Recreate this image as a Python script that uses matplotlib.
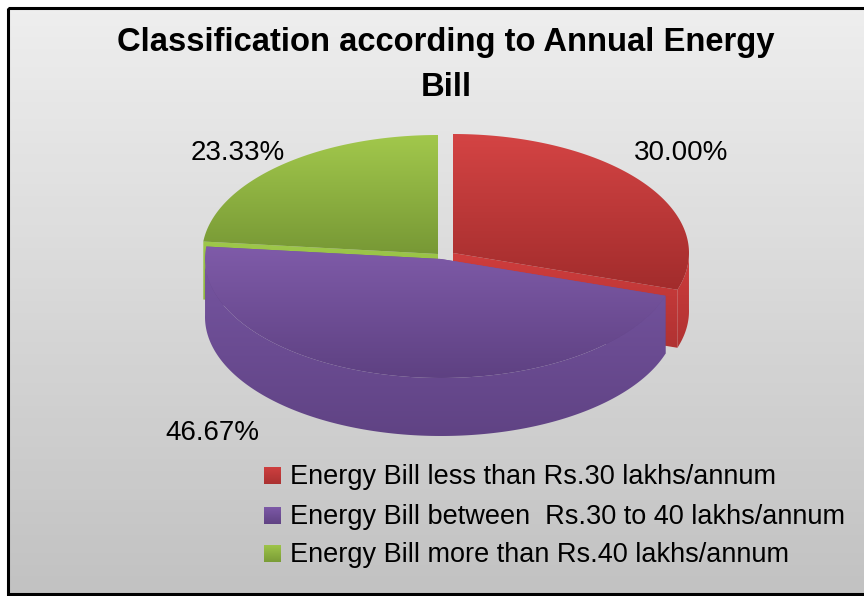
import numpy as np
import matplotlib.pyplot as plt
from matplotlib.patches import Polygon, Rectangle
from matplotlib.colors import to_rgb

# data
labels = ["Energy Bill less than Rs.30 lakhs/annum",
          "Energy Bill between  Rs.30 to 40 lakhs/annum",
          "Energy Bill more than Rs.40 lakhs/annum"]
values = [30.00, 46.67, 23.33]
pct_text = ["30.00%", "46.67%", "23.33%"]
title_lines = ["Classification according to Annual Energy", "Bill"]

# styles (top colour, bottom colour, wall colour top, wall colour bottom)
top_cols = [("#D44444", "#A22C2C"), ("#7F5BA9", "#5E4182"), ("#A2C84C", "#779835")]
wall_cols = [("#CF3D3D", "#B03232"), ("#7655A1", "#604384"), ("#9EC84A", "#8DB440")]
legend_cols = [("#D04040", "#A83030"), ("#7E5AA8", "#5E4182"), ("#A0C64A", "#789A36")]
offsets = [(8, -3), (-4, 3), (-7, -2)]
label_pos = [(681, 153), (212, 433), (238, 153)]

W, H = 864, 596
cx0, cy0 = 445, 256
A, B = 236, 119
DEPTH = 58

fig = plt.figure(figsize=(W / 100, H / 100), dpi=100)
ax = fig.add_axes([0, 0, 1, 1])
ax.axis("off")

zc = [1]


def grad_fill(verts, c1, c2):
    verts = np.asarray(verts)
    poly = Polygon(verts, closed=True, fc="none", ec="none")
    ax.add_patch(poly)
    x0, y0 = verts.min(axis=0)
    x1, y1 = verts.max(axis=0)
    t = np.linspace(0, 1, 64)[:, None]
    img = (1 - t) * np.array(to_rgb(c1)) + t * np.array(to_rgb(c2))
    img = np.repeat(img[:, None, :], 2, axis=1)
    im = ax.imshow(img, extent=[x0 - 1, x1 + 1, y1 + 1, y0 - 1], aspect="auto",
                   interpolation="bilinear", zorder=zc[0])
    im.set_clip_path(poly)
    zc[0] += 1


# background
bg = np.linspace(0, 1, 100)[:, None] * (np.array(to_rgb("#C2C2C2")) - np.array(to_rgb("#EEEEEE"))) + np.array(to_rgb("#EEEEEE"))
bg = np.repeat(bg[:, None, :], 2, axis=1)
ax.imshow(bg, extent=[8, W + 5, 594, 8], aspect="auto", zorder=0)
ax.add_patch(Rectangle((8, 8), W, 586, fill=False, ec="black", lw=2.2, zorder=50))

# slice angles (start at 12 o'clock, clockwise)
total = sum(values)
angles = []
start = 90.0
for v in values:
    end = start - 360.0 * v / total
    angles.append((start, end))
    start = end


def rim(cx, cy, th):
    r = np.radians(th)
    return cx + A * np.cos(r), cy - B * np.sin(r)


# draw back slices first, front (purple) last
order = [2, 0, 1]
for i in order:
    s, e = angles[i]
    cx, cy = cx0 + offsets[i][0], cy0 + offsets[i][1]
    # radial walls
    for th in (s, e):
        px, py = rim(cx, cy, th)
        grad_fill([(cx, cy), (px, py), (px, py + DEPTH), (cx, cy + DEPTH)], *wall_cols[i])
    # curved outer wall (front half only)
    ths = np.linspace(e, s, 200)
    front = ths[np.sin(np.radians(ths)) <= 0.02]
    if len(front) > 1:
        xs, ys = rim(cx, cy, front)
        verts = list(zip(xs, ys)) + list(zip(xs[::-1], ys[::-1] + DEPTH))
        grad_fill(verts, *wall_cols[i])
    # top face
    xs, ys = rim(cx, cy, ths)
    grad_fill([(cx, cy)] + list(zip(xs, ys)), *top_cols[i])

# percentage labels
for (x, y), txt in zip(label_pos, pct_text):
    ax.text(x, y, txt, fontsize=20, family="Liberation Sans", ha="center", va="center", zorder=60)

# title
for y, line in zip([43, 88], title_lines):
    ax.text(446, y, line, fontsize=23.6, fontweight="bold", family="Liberation Sans",
            ha="center", va="center", zorder=60)

# legend
leg_y = [475.5, 515.5, 553.5]
for i, lab in enumerate(labels):
    y = leg_y[i]
    grad_fill([(264, y - 8.5), (281, y - 8.5), (281, y + 8.5), (264, y + 8.5)], *legend_cols[i])
    ax.text(290, y + 1, lab, fontsize=19.5, family="Liberation Sans", ha="left", va="center", zorder=60)

ax.set_xlim(0, W)
ax.set_ylim(H, 0)
fig.savefig("out.png", dpi=100, facecolor="white")
